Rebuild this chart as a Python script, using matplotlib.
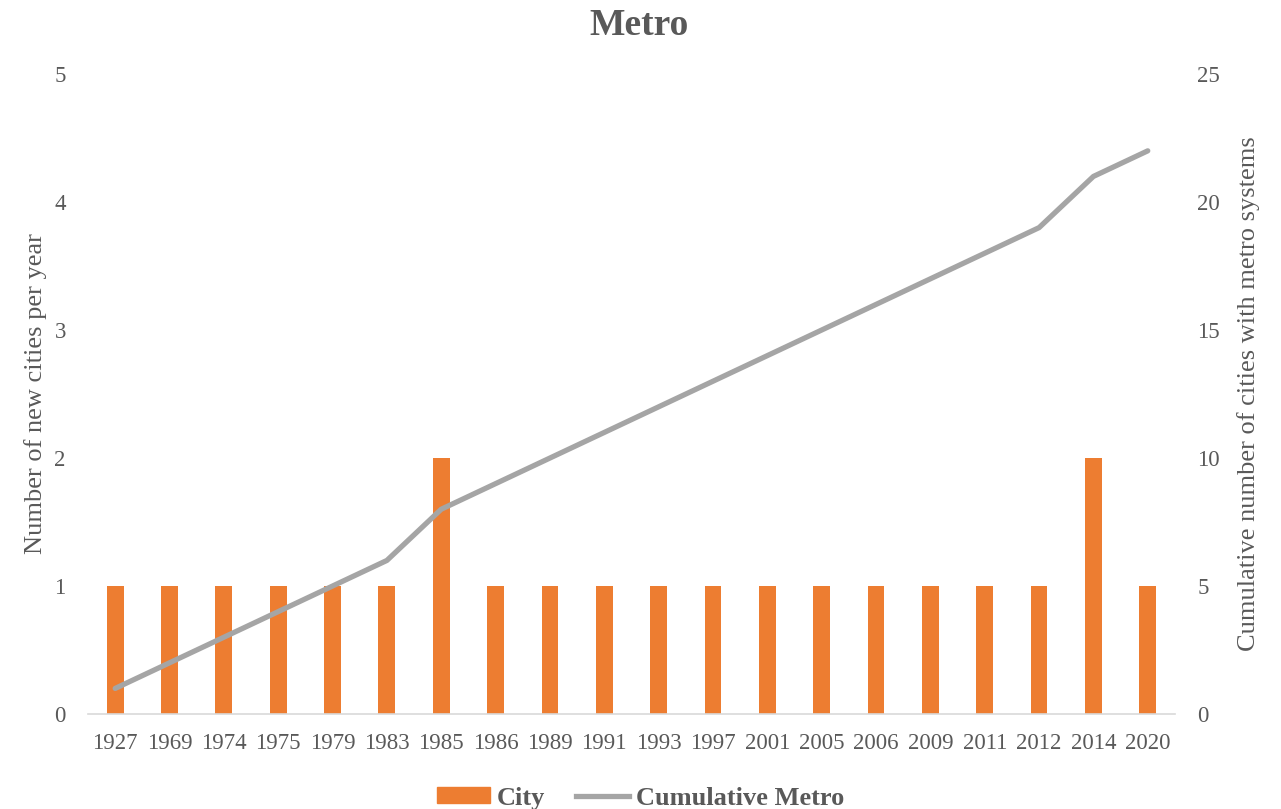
import numpy as np
import matplotlib.pyplot as plt
from matplotlib.patches import Patch
from matplotlib.lines import Line2D

years = ['1927', '1969', '1974', '1975', '1979', '1983', '1985', '1986', '1989', '1991',
         '1993', '1997', '2001', '2005', '2006', '2009', '2011', '2012', '2014', '2020']
new_cities = [1, 1, 1, 1, 1, 1, 2, 1, 1, 1, 1, 1, 1, 1, 1, 1, 1, 1, 2, 1]
cumulative = [1, 2, 3, 4, 5, 6, 8, 9, 10, 11, 12, 13, 14, 15, 16, 17, 18, 19, 21, 22]

orange = '#ED7D31'
grey = '#A5A5A5'
txt = '#595959'

plt.rcParams['font.family'] = ['Liberation Serif', 'DejaVu Serif']

fig = plt.figure(figsize=(12.81, 8.09), dpi=100)
ax = fig.add_axes([0.0687, 0.1174, 0.8485, 0.7911])
ax2 = ax.twinx()

x = np.arange(len(years))
ax.bar(x, new_cities, width=0.31, color=orange, zorder=2)
ax2.plot(x, cumulative, color=grey, lw=3.8, solid_capstyle='round', zorder=3)

ax.set_xlim(-0.5, len(years) - 0.5)
ax.set_ylim(0, 5)
ax2.set_ylim(0, 25)
ax.set_yticks(range(0, 6))
ax2.set_yticks(range(0, 26, 5))
ax.set_xticks(x)
ax.set_xticklabels(years)

for a in (ax, ax2):
    for s in a.spines.values():
        s.set_visible(False)
    a.tick_params(length=0, labelsize=16.5, labelcolor=txt)
ax.spines['bottom'].set_visible(True)
ax.spines['bottom'].set_color('#D9D9D9')
ax.spines['bottom'].set_linewidth(1.2)
ax.tick_params(axis='x', pad=14)
ax.tick_params(axis='y', pad=16)
ax2.tick_params(axis='y', pad=16)

ax.set_ylabel('Number of new cities per year', fontsize=19, color=txt, labelpad=5)
ax2.set_ylabel('Cumulative number of cities with metro systems', fontsize=19, color=txt, labelpad=12)
ax2.set_zorder(ax.get_zorder() + 1)
ax2.patch.set_visible(False)

fig.suptitle('Metro', fontsize=27, fontweight='bold', color=txt, x=0.499, y=0.99)

handles = [Patch(color=orange), Line2D([], [], color=grey, lw=3.8)]
fig.legend(handles, ['City', 'Cumulative Metro'], loc='lower center', bbox_to_anchor=(0.5, -0.03),
           ncol=2, frameon=False, prop={'size': 19, 'weight': 'bold'}, labelcolor=txt,
           handlelength=2.0, handleheight=0.55, handletextpad=0.25, columnspacing=1.2)

fig.savefig('out.png', dpi=100)
